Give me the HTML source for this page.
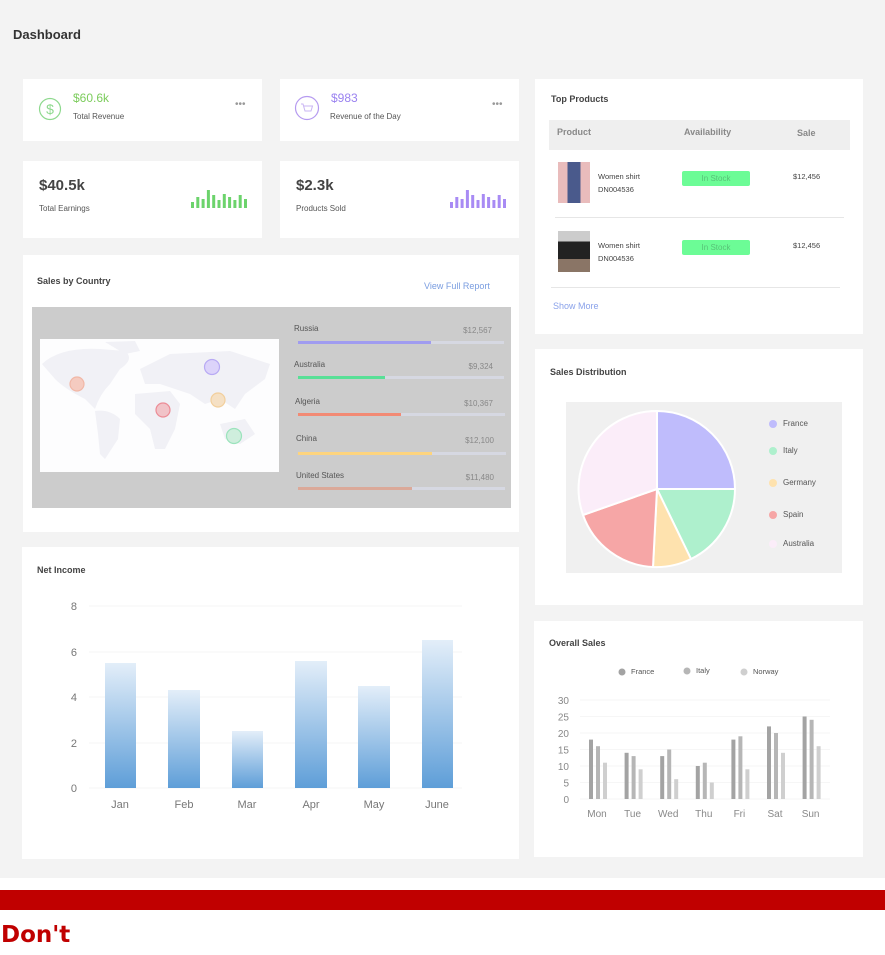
<!DOCTYPE html>
<html><head><meta charset="utf-8"><style>
*{margin:0;padding:0;box-sizing:border-box}
body{width:885px;height:955px;background:#fff;font-family:"Liberation Sans",sans-serif;position:relative;overflow:hidden;color:#444}
.bg{position:absolute;left:0;top:0;width:885px;height:878px;background:#f3f3f3}
.card{position:absolute;background:#fff}
.t{position:absolute;white-space:nowrap}
</style></head><body>
<div class="bg"></div>
<div class="t" style="left:13px;top:27px;font-size:13px;font-weight:bold;color:#333">Dashboard</div>

<div class="card" style="left:23px;top:79px;width:239px;height:62px">
<svg class="t" style="left:15px;top:18px" width="24" height="24"><circle cx="12" cy="12" r="10.5" fill="none" stroke="#8ed98e" stroke-width="1.2"/><text x="12" y="17" text-anchor="middle" font-size="14" fill="#8ed98e" font-family="Liberation Sans">$</text></svg>
<div class="t" style="left:50px;top:12px;font-size:12px;color:#7ccc5c">$60.6k</div>
<div class="t" style="left:50px;top:33px;font-size:8px;color:#555">Total Revenue</div>
<div class="t" style="left:212px;top:20px;font-size:10px;color:#999">•••</div>
</div>
<div class="card" style="left:280px;top:79px;width:239px;height:62px">
<svg class="t" style="left:14px;top:16px" width="26" height="26"><circle cx="13" cy="13" r="11.5" fill="none" stroke="#b59af0" stroke-width="1.2"/><path d="M7 9h2l2 7h6l1.5-5H10" fill="none" stroke="#c9b5f3" stroke-width="1"/></svg>
<div class="t" style="left:51px;top:12px;font-size:12px;color:#9a82f0">$983</div>
<div class="t" style="left:50px;top:33px;font-size:8px;color:#555">Revenue of the Day</div>
<div class="t" style="left:212px;top:20px;font-size:10px;color:#999">•••</div>
</div>

<div class="card" style="left:23px;top:161px;width:239px;height:77px">
<div class="t" style="left:16px;top:16px;font-size:15px;font-weight:bold;color:#444">$40.5k</div>
<div class="t" style="left:16px;top:43px;font-size:8px;color:#555">Total Earnings</div>
<svg class="t" style="left:168px;top:25px" width="60" height="22" id="g1"></svg>
</div>
<div class="card" style="left:280px;top:161px;width:239px;height:77px">
<div class="t" style="left:16px;top:16px;font-size:15px;font-weight:bold;color:#444">$2.3k</div>
<div class="t" style="left:16px;top:43px;font-size:8px;color:#555">Products Sold</div>
<svg class="t" style="left:170px;top:25px" width="60" height="22" id="g2"></svg>
</div>

<div class="card" style="left:23px;top:255px;width:496px;height:277px">
<div class="t" style="left:14px;top:21px;font-size:9px;font-weight:bold;color:#444">Sales by Country</div>
<div class="t" style="left:401px;top:26px;font-size:9px;color:#7a9de0">View Full Report</div>
<div style="position:absolute;left:9px;top:52px;width:479px;height:201px;background:#cccccc">
<div style="position:absolute;left:8px;top:32px;width:239px;height:133px;background:#fdfdfe;overflow:hidden">
<svg width="239" height="133">
<g fill="#f1f1f6">
<path d="M2 25 Q20 8 60 10 L85 12 Q95 20 80 30 L70 45 Q60 55 55 70 L45 60 Q25 50 15 40 Z"/>
<path d="M65 3 L95 2 L100 12 L85 15 Z"/>
<path d="M55 72 Q70 70 80 80 L78 100 L65 120 L60 115 L58 95 Z"/>
<path d="M100 30 L130 15 L190 12 L230 25 L225 40 L205 55 L195 70 L180 60 L165 65 L150 55 L135 50 L120 45 L105 45 Z"/>
<path d="M95 55 L130 52 L140 65 L135 90 L125 110 L115 110 L110 90 L95 75 Z"/>
<path d="M180 85 L205 80 L215 95 L200 105 L185 100 Z"/>
</g>
<g stroke-width="1.2">
<circle cx="37" cy="45" r="7" fill="#f5cbc0" stroke="#f1b7a6"/>
<circle cx="172" cy="28" r="7.5" fill="#dcd3fa" stroke="#b8aaf4"/>
<circle cx="178" cy="61" r="7" fill="#f5e0c4" stroke="#f2cf9c"/>
<circle cx="123" cy="71" r="7" fill="#f1c3c8" stroke="#ec8c96"/>
<circle cx="194" cy="97" r="7.5" fill="#cfeedd" stroke="#9be3bc"/>
</g></svg></div>
<svg style="position:absolute;left:0;top:0" width="479" height="201" font-family="Liberation Sans" font-size="8">
<g fill="#555"><text x="262" y="24">Russia</text><text x="262" y="60">Australia</text><text x="263" y="97">Algeria</text><text x="264" y="134">China</text><text x="264" y="171">United States</text></g>
<g fill="#888" text-anchor="end"><text x="460" y="26">$12,567</text><text x="461" y="62">$9,324</text><text x="461" y="99">$10,367</text><text x="462" y="136">$12,100</text><text x="462" y="173">$11,480</text></g>
<g fill="#d6d8e2"><rect x="266" y="34" width="206" height="3"/><rect x="266" y="69" width="206" height="3"/><rect x="266" y="106" width="207" height="3"/><rect x="266" y="145" width="208" height="3"/><rect x="266" y="180" width="207" height="3"/></g>
<rect x="266" y="34" width="133" height="3" fill="#a09cf0"/><rect x="266" y="69" width="87" height="3" fill="#58df96"/><rect x="266" y="106" width="103" height="3" fill="#f28a74"/><rect x="266" y="145" width="134" height="3" fill="#fdd47e"/><rect x="266" y="180" width="114" height="3" fill="#dba999"/>
</svg>
</div>
</div>

<div class="card" style="left:22px;top:547px;width:497px;height:312px">
<div class="t" style="left:15px;top:18px;font-size:9px;font-weight:bold;color:#444">Net Income</div>
</div>
<svg style="position:absolute;left:0;top:590px" width="520" height="230" font-family="Liberation Sans" font-size="11">
<defs><linearGradient id="bg" x1="0" y1="0" x2="0" y2="1"><stop offset="0" stop-color="#e3eef9"/><stop offset="1" stop-color="#5e9ed8"/></linearGradient></defs>
<g stroke="#f4f4f4"><line x1="89" x2="462" y1="16" y2="16"/><line x1="89" x2="462" y1="62" y2="62"/><line x1="89" x2="462" y1="107" y2="107"/><line x1="89" x2="462" y1="153" y2="153"/><line x1="89" x2="462" y1="198" y2="198"/></g>
<g fill="#777" text-anchor="end"><text x="77" y="20">8</text><text x="77" y="66">6</text><text x="77" y="111">4</text><text x="77" y="157">2</text><text x="77" y="202">0</text></g>
<g fill="url(#bg)"><rect x="105" y="73" width="31" height="125"/><rect x="168" y="100" width="32" height="98"/><rect x="232" y="141" width="31" height="57"/><rect x="295" y="71" width="32" height="127"/><rect x="358" y="96" width="32" height="102"/><rect x="422" y="50" width="31" height="148"/></g>
<g fill="#777" text-anchor="middle"><text x="120" y="218">Jan</text><text x="184" y="218">Feb</text><text x="247" y="218">Mar</text><text x="311" y="218">Apr</text><text x="374" y="218">May</text><text x="437" y="218">June</text></g>
</svg>

<div class="card" style="left:535px;top:79px;width:328px;height:255px">
<div class="t" style="left:16px;top:15px;font-size:9px;font-weight:bold;color:#444">Top Products</div>
<div style="position:absolute;left:14px;top:41px;width:301px;height:30px;background:#efefef"></div>
<div class="t" style="left:22px;top:48px;font-size:9px;font-weight:bold;color:#888">Product</div>
<div class="t" style="left:149px;top:48px;font-size:9px;font-weight:bold;color:#888">Availability</div>
<div class="t" style="left:262px;top:49px;font-size:9px;font-weight:bold;color:#888">Sale</div>
<div style="position:absolute;left:23px;top:83px;width:32px;height:41px;background:linear-gradient(90deg,#e9bcbc 0,#e9bcbc 30%,#4a5a8c 30%,#4a5a8c 70%,#e9bcbc 70%)"></div>
<div style="position:absolute;left:23px;top:152px;width:32px;height:41px;background:linear-gradient(180deg,#ccc 0,#ccc 25%,#222 25%,#222 68%,#8a7566 68%)"></div>
<div class="t" style="left:63px;top:93px;font-size:7.5px;color:#444">Women shirt</div>
<div class="t" style="left:63px;top:106px;font-size:7.5px;color:#444">DN004536</div>
<div class="t" style="left:63px;top:162px;font-size:7.5px;color:#444">Women shirt</div>
<div class="t" style="left:63px;top:175px;font-size:7.5px;color:#444">DN004536</div>
<div style="position:absolute;left:147px;top:92px;width:68px;height:15px;background:#6cfc96;border-radius:2px;font-size:8px;color:#58c278;text-align:center;line-height:15px">In Stock</div>
<div style="position:absolute;left:147px;top:161px;width:68px;height:15px;background:#6cfc96;border-radius:2px;font-size:8px;color:#58c278;text-align:center;line-height:15px">In Stock</div>
<div class="t" style="left:258px;top:93px;font-size:7.5px;color:#444">$12,456</div>
<div class="t" style="left:258px;top:162px;font-size:7.5px;color:#444">$12,456</div>
<div style="position:absolute;left:20px;top:138px;width:289px;height:1px;background:#e6e6e6"></div>
<div style="position:absolute;left:16px;top:208px;width:289px;height:1px;background:#e6e6e6"></div>
<div class="t" style="left:18px;top:222px;font-size:9px;color:#8aa2ea">Show More</div>
</div>

<div class="card" style="left:535px;top:349px;width:328px;height:256px">
<div class="t" style="left:15px;top:18px;font-size:9px;font-weight:bold;color:#444">Sales Distribution</div>
<div style="position:absolute;left:31px;top:53px;width:276px;height:171px;background:#f0f0f0"></div>
</div>
<svg style="position:absolute;left:535px;top:349px" width="328" height="256" font-family="Liberation Sans" font-size="8">
<g stroke="#fff" stroke-width="2" transform="translate(122,140)">
<path d="M0 0 L0 -78 A78 78 0 0 1 78 0 Z" fill="#bfbcfc"/>
<path d="M0 0 L78 0 A78 78 0 0 1 34 70 Z" fill="#aef0cd"/>
<path d="M0 0 L34 70 A78 78 0 0 1 -4 78 Z" fill="#fee2ae"/>
<path d="M0 0 L-4 78 A78 78 0 0 1 -74 26 Z" fill="#f6a6a6"/>
<path d="M0 0 L-74 26 A78 78 0 0 1 0 -78 Z" fill="#fbedf9"/>
</g>
<circle cx="238" cy="75" r="4" fill="#bfbcfc"/><circle cx="238" cy="102" r="4" fill="#aef0cd"/><circle cx="238" cy="134" r="4" fill="#fee2ae"/><circle cx="238" cy="166" r="4" fill="#f6a6a6"/><circle cx="238" cy="195" r="4" fill="#fbedf9"/>
<g fill="#555"><text x="248" y="77">France</text><text x="248" y="104">Italy</text><text x="248" y="136">Germany</text><text x="248" y="168">Spain</text><text x="248" y="197">Australia</text></g>
</svg>

<div class="card" style="left:534px;top:621px;width:329px;height:236px">
<div class="t" style="left:15px;top:17px;font-size:9px;font-weight:bold;color:#444">Overall Sales</div>
</div>
<svg style="position:absolute;left:535px;top:620px" width="330" height="240" font-family="Liberation Sans" font-size="10" id="os">
<g font-size="7.5" fill="#555"><circle cx="87" cy="52" r="3.5" fill="#a3a3a3"/><text x="96" y="54">France</text><circle cx="152" cy="51" r="3.5" fill="#b6b6b6"/><text x="161" y="53">Italy</text><circle cx="209" cy="52" r="3.5" fill="#cfcfcf"/><text x="218" y="54">Norway</text></g>
</svg>

<div style="position:absolute;left:0;top:890px;width:885px;height:20px;background:#c00000"></div>
<div class="t" style="left:1px;top:922px;font-size:23px;font-weight:bold;color:#c00000;font-family:'DejaVu Sans',sans-serif">Don't</div>

<script>
var hs=[6,11,9,18,13,8,14,11,8,13,9];
function spark(id,c){var s='';hs.forEach(function(h,i){s+='<rect x="'+(i*5.3)+'" y="'+(22-h)+'" width="3" height="'+h+'" fill="'+c+'"/>';});document.getElementById(id).innerHTML=s;}
spark('g1','#6cd36c');spark('g2','#a88bf4');
var os=document.getElementById('os'),s='';
for(var i=0;i<=6;i++){var y=179-i*16.5;s+='<line x1="45" x2="295" y1="'+y+'" y2="'+y+'" stroke="#f6f6f6"/><text x="34" y="'+(y+4)+'" text-anchor="end" fill="#888">'+(i*5)+'</text>';}
var F=[18,14,13,10,18,22,25],I=[16,13,15,11,19,20,24],N=[11,9,6,5,9,14,16],L=['Mon','Tue','Wed','Thu','Fri','Sat','Sun'];
for(var j=0;j<7;j++){var cx=62+j*35.6;[[F,'#a3a3a3',-8],[I,'#b6b6b6',-1],[N,'#cfcfcf',6]].forEach(function(a){var h=a[0][j]*3.3;s+='<rect x="'+(cx+a[2])+'" y="'+(179-h)+'" width="4" height="'+h+'" fill="'+a[1]+'"/>';});s+='<text x="'+cx+'" y="197" text-anchor="middle" fill="#888">'+L[j]+'</text>';}
os.innerHTML+=s;
</script>
</body></html>
